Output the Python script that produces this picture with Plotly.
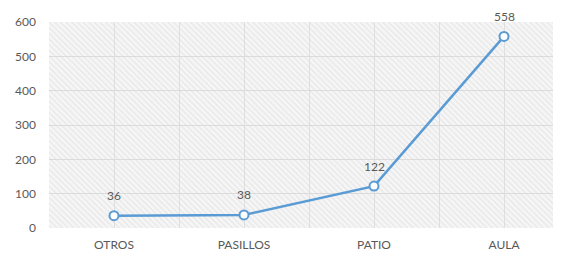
import plotly.graph_objects as go

categories = ["OTROS", "PASILLOS", "PATIO", "AULA"]
values = [36, 38, 122, 558]
y_ticks = [0, 100, 200, 300, 400, 500, 600]

line_color = "#5b9bd5"
text_color = "#595959"

fig = go.Figure()

# hatched plot background (decoration on the base axes, semi-transparent so the
# base vertical gridlines show through)
fig.add_trace(go.Scatter(
    x=[0, 1, 1, 0, 0], y=[0, 0, 1, 1, 0], xaxis="x", yaxis="y",
    mode="none", fill="toself", fillcolor="rgba(0,0,0,0)",
    fillpattern=dict(shape="\\", fgcolor="#d6d6d6", bgcolor="rgba(0,0,0,0)", size=4, solidity=0.3),
    hoverinfo="skip", showlegend=False,
))

# data on overlay axes (drawn above the background)
fig.add_trace(go.Scatter(
    x=categories, y=values, xaxis="x2", yaxis="y2", mode="lines+markers",
    line=dict(color=line_color, width=2.5),
    marker=dict(symbol="circle", size=9, color="white", line=dict(color=line_color, width=2)),
    cliponaxis=False, showlegend=False,
))

for c, v in zip(categories, values):
    fig.add_annotation(x=c, y=v, xref="x2", yref="y2", text=str(v), showarrow=False,
                       yshift=20, font=dict(color=text_color, size=12))

fig.update_layout(
    width=561, height=253,
    margin=dict(l=41, r=0, t=14, b=33),
    paper_bgcolor="white", plot_bgcolor="#f6f6f6",
    font=dict(family="Lato, Open Sans, sans-serif", color=text_color, size=12),
    xaxis=dict(range=[0, 1], tickvals=[k / 8 for k in range(9)], showticklabels=False,
               showgrid=True, gridcolor="#e0e0e0", gridwidth=1, zeroline=False,
               showline=False, ticks="", fixedrange=True, automargin=False),
    yaxis=dict(range=[0, 1], visible=False, fixedrange=True, automargin=False),
    xaxis2=dict(type="category", overlaying="x", anchor="y2", range=[-0.5, 3.5],
                showgrid=False, showline=False, zeroline=False, ticks="",
                tickfont=dict(size=12, color=text_color), ticklabelstandoff=8,
                automargin=False),
    yaxis2=dict(overlaying="y", anchor="x2", range=[0, 600], tickvals=y_ticks,
                showgrid=True, gridcolor="#dcdcdc", gridwidth=1, zeroline=False,
                showline=False, ticks="", tickfont=dict(size=12, color=text_color),
                ticklabelstandoff=12, automargin=False),
)

fig.write_html("out.html")
